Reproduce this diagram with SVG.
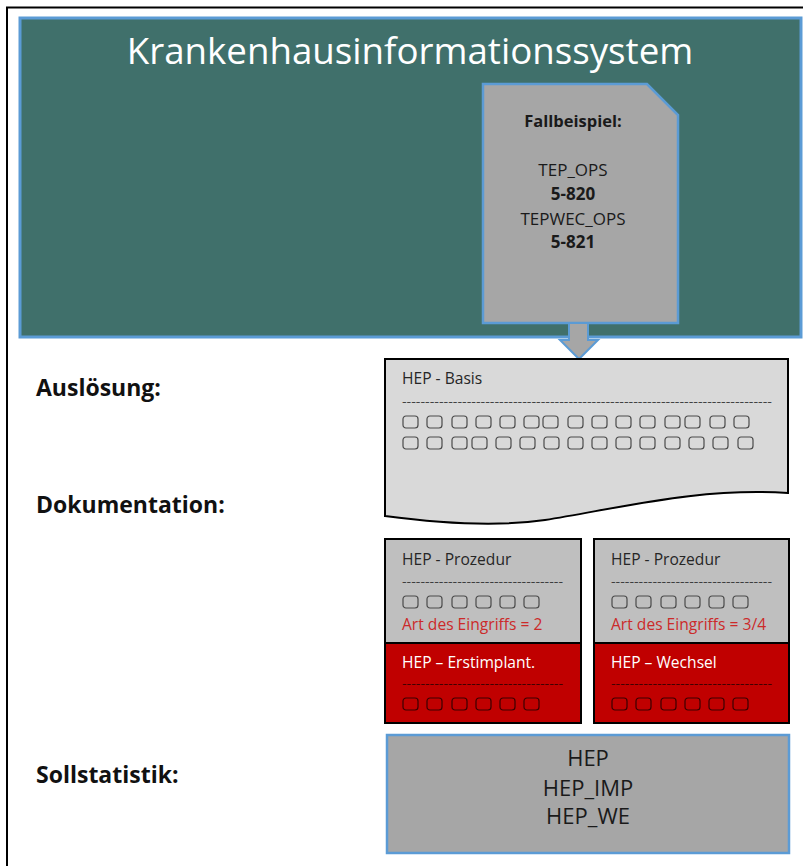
<svg xmlns="http://www.w3.org/2000/svg" width="803" height="866" viewBox="0 0 803 866">
<defs>
<style>
.t{font-family:"Open Sans","Noto Sans","Liberation Sans",sans-serif;}
.lbl{font-family:"Open Sans","Noto Sans","Liberation Sans",sans-serif;font-weight:bold;font-size:23px;fill:#111;}
.sm{font-family:"Open Sans","Noto Sans","Liberation Sans",sans-serif;font-size:15.6px;fill:#262626;}
.dsh{font-family:"Open Sans","Noto Sans","Liberation Sans",sans-serif;font-size:11px;fill:#262626;}
.dshr{font-family:"Open Sans","Noto Sans","Liberation Sans",sans-serif;font-size:11px;fill:#2a0000;}
.smw{font-family:"Open Sans","Noto Sans","Liberation Sans",sans-serif;font-size:15.6px;fill:#ffffff;}
.red{font-family:"Open Sans","Noto Sans","Liberation Sans",sans-serif;font-size:15.6px;fill:#cc2a2a;}
.sq{fill:none;stroke:#4a4a4a;stroke-width:1.2;}
.sqr{fill:none;stroke:#3a0000;stroke-width:1.2;}
</style>
<rect id="s" x="0" y="0" width="15" height="12" rx="3" ry="3" class="sq"/>
<rect id="sr" x="0" y="0" width="15" height="12" rx="3" ry="3" class="sqr"/>
</defs>
<rect x="0" y="0" width="803" height="866" fill="#ffffff"/>
<rect x="7" y="7.5" width="900" height="900" fill="none" stroke="#000" stroke-width="2"/>

<g id="kis">
<rect x="20" y="18" width="781" height="319" fill="#40706b" stroke="#5b9bd5" stroke-width="3"/>
<text x="410" y="64" text-anchor="middle" class="t" font-size="36.7" fill="#ffffff">Krankenhausinformationssystem</text>
</g>

<g id="fallbeispiel">
<path d="M483,84 H647 L678,115 V323 H483 Z" fill="#a6a6a6" stroke="#5b9bd5" stroke-width="2.5"/>
<text x="573" y="127" text-anchor="middle" class="t" font-size="16.5" font-weight="bold" fill="#1a1a1a">Fallbeispiel:</text>
<text x="573" y="176" text-anchor="middle" class="t" font-size="17" fill="#1a1a1a">TEP_OPS</text>
<text x="573" y="200" text-anchor="middle" class="t" font-size="17" font-weight="bold" fill="#1a1a1a">5-820</text>
<text x="573" y="225" text-anchor="middle" class="t" font-size="17" fill="#1a1a1a">TEPWEC_OPS</text>
<text x="573" y="248" text-anchor="middle" class="t" font-size="17" font-weight="bold" fill="#1a1a1a">5-821</text>
</g>

<g id="connectors">
<path d="M569,323 H588 V340 H598 L579,359 L560,340 H569 Z" fill="#a6a6a6" stroke="#5b9bd5" stroke-width="2"/>
</g>

<g id="labels">
<text x="36" y="396" class="lbl">Auslösung:</text>
<text x="36" y="513" class="lbl">Dokumentation:</text>
<text x="36" y="783" class="lbl">Sollstatistik:</text>
</g>

<g id="hep-basis">
<path d="M385,359 H788 V493 C 700,487 620,508 545,520 C 490,528 430,522 385,516 Z" fill="#d9d9d9" stroke="#000" stroke-width="2"/>
<text x="402" y="384" class="sm">HEP - Basis</text>
<text x="402" y="405" class="dsh" textLength="370" lengthAdjust="spacingAndGlyphs">--------------------------------------------------------------------------------</text>
<use href="#s" x="403" y="416"/><use href="#s" x="427" y="416"/><use href="#s" x="452" y="416"/><use href="#s" x="476" y="416"/><use href="#s" x="500" y="416"/><use href="#s" x="524" y="416"/><use href="#s" x="543" y="416"/><use href="#s" x="568" y="416"/><use href="#s" x="592" y="416"/><use href="#s" x="616" y="416"/><use href="#s" x="640" y="416"/><use href="#s" x="665" y="416"/><use href="#s" x="685" y="416"/><use href="#s" x="710" y="416"/><use href="#s" x="734" y="416"/>
<use href="#s" x="403" y="437"/><use href="#s" x="427" y="437"/><use href="#s" x="452" y="437"/><use href="#s" x="472" y="437"/><use href="#s" x="496" y="437"/><use href="#s" x="520" y="437"/><use href="#s" x="544" y="437"/><use href="#s" x="568" y="437"/><use href="#s" x="592" y="437"/><use href="#s" x="616" y="437"/><use href="#s" x="640" y="437"/><use href="#s" x="665" y="437"/><use href="#s" x="689" y="437"/><use href="#s" x="713" y="437"/><use href="#s" x="738" y="437"/>
</g>

<g id="hep-prozedur-1">
<rect x="385" y="539" width="196" height="104" fill="#bfbfbf" stroke="#000" stroke-width="2"/>
<rect x="385" y="643" width="196" height="80" fill="#c00000" stroke="#000" stroke-width="2"/>
<text x="402" y="565" class="sm">HEP - Prozedur</text>
<text x="402" y="585" class="dsh" textLength="161" lengthAdjust="spacingAndGlyphs">-----------------------------------</text>
<use href="#s" x="403" y="596"/><use href="#s" x="427" y="596"/><use href="#s" x="452" y="596"/><use href="#s" x="476" y="596"/><use href="#s" x="500" y="596"/><use href="#s" x="524" y="596"/>
<text x="402" y="630" class="red">Art des Eingriffs = 2</text>
<text x="402" y="668" class="smw">HEP – Erstimplant.</text>
<text x="402" y="687" class="dshr" textLength="161" lengthAdjust="spacingAndGlyphs">-----------------------------------</text>
<use href="#sr" x="403" y="698"/><use href="#sr" x="427" y="698"/><use href="#sr" x="452" y="698"/><use href="#sr" x="476" y="698"/><use href="#sr" x="500" y="698"/><use href="#sr" x="524" y="698"/>
</g>

<g id="hep-prozedur-2">
<rect x="594" y="539" width="195" height="104" fill="#bfbfbf" stroke="#000" stroke-width="2"/>
<rect x="594" y="643" width="195" height="80" fill="#c00000" stroke="#000" stroke-width="2"/>
<text x="611" y="565" class="sm">HEP - Prozedur</text>
<text x="611" y="585" class="dsh" textLength="161" lengthAdjust="spacingAndGlyphs">-----------------------------------</text>
<use href="#s" x="612" y="596"/><use href="#s" x="636" y="596"/><use href="#s" x="661" y="596"/><use href="#s" x="685" y="596"/><use href="#s" x="709" y="596"/><use href="#s" x="733" y="596"/>
<text x="611" y="630" class="red">Art des Eingriffs = 3/4</text>
<text x="611" y="668" class="smw">HEP – Wechsel</text>
<text x="611" y="687" class="dshr" textLength="161" lengthAdjust="spacingAndGlyphs">-----------------------------------</text>
<use href="#sr" x="612" y="698"/><use href="#sr" x="636" y="698"/><use href="#sr" x="661" y="698"/><use href="#sr" x="685" y="698"/><use href="#sr" x="709" y="698"/><use href="#sr" x="733" y="698"/>
</g>

<g id="sollstatistik">
<rect x="387" y="735" width="402" height="118" fill="#a6a6a6" stroke="#5b9bd5" stroke-width="2.5"/>
<text x="588" y="766" text-anchor="middle" class="t" font-size="22" fill="#1a1a1a">HEP</text>
<text x="588" y="796" text-anchor="middle" class="t" font-size="22" fill="#1a1a1a">HEP_IMP</text>
<text x="588" y="824" text-anchor="middle" class="t" font-size="22" fill="#1a1a1a">HEP_WE</text>
</g>
</svg>
